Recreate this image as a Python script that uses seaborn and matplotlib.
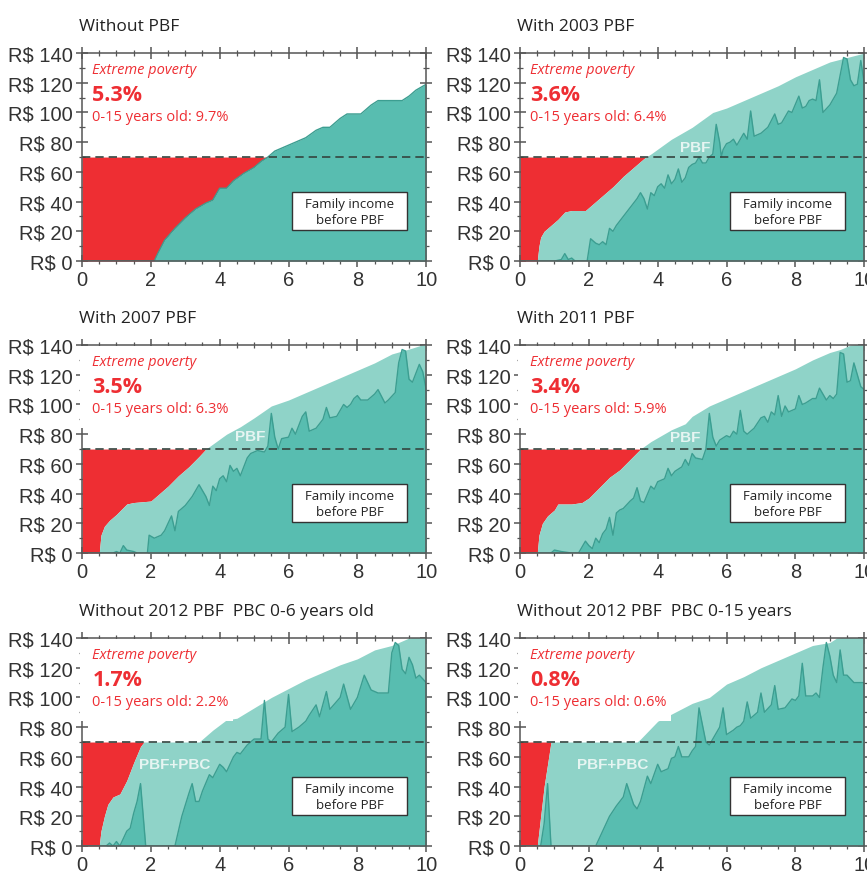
import numpy as np
import matplotlib
matplotlib.use("Agg")
import matplotlib.pyplot as plt
from matplotlib.patches import Rectangle
import seaborn as sns

# income curves (x = population share, y = R$ per month)
nopbf_x = [0, 2.1, 2.2, 2.4, 2.7, 3.0, 3.3, 3.6, 3.8, 4.0, 4.2, 4.4, 4.7, 5.0, 5.2, 5.4, 5.6, 5.8,
           6.0, 6.2, 6.5, 6.8, 7.0, 7.2, 7.5, 7.7, 8.1, 8.4, 8.6, 9.0, 9.3, 9.5, 9.7, 10]
nopbf_y = [0, 0, 5, 14, 22, 29, 35, 39, 41, 49, 49, 54, 59, 63, 67, 70, 74, 76,
           78, 80, 83, 88, 90, 90, 96, 99, 99, 105, 108, 108, 108, 111, 115, 119]

pbf03_x = [0, 0.5, 0.55, 0.6, 0.7, 0.9, 1.1, 1.3, 1.5, 1.9, 2.1, 2.4, 2.7, 3.0, 3.3, 3.6, 3.8, 4.1,
           4.4, 4.7, 5.0, 5.3, 5.6, 6.0, 6.5, 7.0, 7.5, 8.0, 8.5, 9.0, 9.5, 10]
pbf03_y = [0, 0, 10, 16, 20, 24, 28, 33, 34, 34, 38, 44, 50, 57, 63, 69, 72, 77,
           82, 86, 90, 95, 100, 103, 108, 113, 118, 124, 129, 134, 137, 140]
pre03_x = [0, 1.0, 1.2, 1.3, 1.4, 1.5, 1.6, 1.95, 2.05, 2.2, 2.3, 2.4, 2.5, 2.6, 2.7, 2.8, 3.0, 3.2,
           3.4, 3.5, 3.6, 3.7, 3.8, 3.9, 4.0, 4.1, 4.2, 4.3, 4.4, 4.5, 4.6, 4.7, 4.8, 4.9, 5.0, 5.1,
           5.2, 5.3, 5.4, 5.5, 5.6, 5.7, 5.8, 5.85, 5.9, 6.0, 6.1, 6.2, 6.3, 6.5, 6.6, 6.7, 6.8, 7.0,
           7.2, 7.4, 7.5, 7.6, 7.8, 7.9, 8.1, 8.2, 8.3, 8.4, 8.5, 8.6, 8.7, 8.8, 9.0, 9.2, 9.4, 9.5,
           9.6, 9.7, 9.8, 9.9, 10]
pre03_y = [0, 0, 1, 5, 1, 2, 0, 0, 15, 12, 11, 13, 11, 22, 20, 24, 30, 36,
           42, 46, 42, 35, 46, 44, 50, 52, 49, 58, 52, 55, 62, 53, 56, 63, 65, 66,
           70, 66, 66, 70, 72, 92, 80, 70, 75, 79, 80, 82, 78, 86, 82, 101, 84, 86,
           90, 99, 92, 93, 101, 100, 111, 103, 104, 108, 109, 108, 122, 100, 105, 113, 137, 136,
           122, 118, 119, 135, 120]

pbf07_x = [0, 0.5, 0.55, 0.65, 0.8, 1.0, 1.3, 1.5, 2.0, 2.2, 2.5, 2.8, 3.1, 3.4, 3.6, 3.9, 4.2,
           4.6, 5.0, 5.5, 6.0, 6.5, 7.0, 7.5, 8.0, 8.5, 9.0, 9.3, 9.6, 10]
pbf07_y = [0, 0, 12, 18, 22, 26, 33, 34, 35, 39, 45, 52, 58, 65, 70, 75, 80,
           85, 91, 99, 103, 108, 113, 118, 123, 128, 134, 136, 138, 141]
pre07_x = [0, 0.9, 1.0, 1.1, 1.2, 1.3, 1.5, 1.6, 1.9, 1.95, 2.1, 2.3, 2.4, 2.6, 2.7, 2.8, 3.0, 3.2,
           3.4, 3.6, 3.7, 3.8, 3.9, 4.0, 4.1, 4.2, 4.3, 4.4, 4.5, 4.6, 4.8, 4.9, 5.1, 5.3, 5.4, 5.5,
           5.6, 5.7, 5.8, 6.0, 6.1, 6.2, 6.4, 6.5, 6.6, 6.8, 7.0, 7.1, 7.2, 7.4, 7.6, 7.7, 7.8, 7.9,
           8.0, 8.1, 8.3, 8.5, 8.6, 8.8, 8.9, 9.1, 9.2, 9.3, 9.4, 9.5, 9.6, 9.8, 9.9, 10]
pre07_y = [0, 0, 1, 0, 5, 2, 1, 0, 0, 12, 10, 12, 15, 25, 15, 28, 32, 38,
           46, 38, 32, 45, 42, 50, 52, 48, 59, 55, 57, 52, 64, 67, 69, 68, 72, 94,
           78, 70, 77, 78, 84, 80, 92, 95, 82, 84, 90, 98, 91, 92, 100, 98, 100, 104,
           106, 103, 103, 107, 110, 101, 103, 108, 128, 137, 136, 117, 115, 127, 122, 110]

pbf11_x = [0, 0.5, 0.55, 0.65, 0.8, 1.0, 1.1, 1.5, 1.8, 2.0, 2.3, 2.6, 2.9, 3.2, 3.5, 3.8, 4.1,
           4.4, 4.8, 5.0, 5.5, 6.0, 6.5, 7.0, 7.5, 8.0, 8.5, 9.0, 9.3, 9.6, 10]
pbf11_y = [0, 0, 12, 20, 25, 29, 33, 33, 34, 37, 44, 51, 56, 63, 70, 75, 79,
           83, 87, 92, 99, 104, 109, 114, 119, 124, 130, 135, 137, 140, 141]
pre11_x = [0, 0.9, 1.0, 1.2, 1.5, 1.7, 1.9, 2.0, 2.1, 2.2, 2.3, 2.4, 2.5, 2.6, 2.7, 2.8, 2.9, 3.0,
           3.2, 3.3, 3.4, 3.5, 3.6, 3.8, 3.9, 4.0, 4.2, 4.3, 4.4, 4.5, 4.7, 4.8, 4.9, 5.0, 5.1, 5.3,
           5.4, 5.5, 5.6, 5.7, 5.8, 6.0, 6.1, 6.2, 6.3, 6.4, 6.5, 6.6, 6.8, 7.0, 7.1, 7.2, 7.3, 7.4,
           7.5, 7.6, 7.7, 7.8, 8.0, 8.1, 8.2, 8.3, 8.5, 8.6, 8.7, 8.9, 9.0, 9.1, 9.2, 9.3, 9.4, 9.5,
           9.6, 9.7, 9.9, 10]
pre11_y = [0, 0, 2, 1, 0, 0, 8, 5, 3, 10, 7, 13, 16, 24, 12, 27, 29, 30,
           35, 37, 44, 35, 34, 45, 43, 48, 50, 57, 52, 55, 58, 63, 59, 67, 64, 63,
           70, 94, 78, 72, 76, 79, 78, 82, 80, 96, 82, 80, 84, 91, 92, 88, 95, 93,
           106, 92, 99, 95, 97, 106, 100, 101, 104, 104, 111, 103, 106, 104, 107, 135, 134, 115,
           116, 128, 112, 110]

pbc6_x = [0, 0.5, 0.55, 0.65, 0.75, 0.9, 1.1, 1.3, 1.5, 1.7, 1.8, 3.4, 3.5, 3.8, 4.2, 4.5, 5.0,
          5.5, 6.0, 6.5, 7.0, 7.5, 8.0, 8.5, 9.0, 9.5, 10]
pbc6_y = [0, 0, 10, 20, 28, 33, 35, 44, 56, 67, 70, 70, 72, 78, 85, 86, 93,
          100, 106, 112, 117, 122, 126, 132, 135, 140, 142]
pre6_x = [0, 0.7, 0.8, 0.9, 1.0, 1.1, 1.2, 1.3, 1.4, 1.5, 1.6, 1.7, 1.85, 2.7, 2.9, 3.1, 3.2, 3.3,
          3.4, 3.5, 3.7, 3.8, 4.0, 4.1, 4.2, 4.4, 4.5, 4.6, 4.8, 5.0, 5.2, 5.3, 5.4, 5.5, 5.7, 5.9,
          6.0, 6.1, 6.3, 6.5, 6.6, 6.8, 6.9, 7.1, 7.2, 7.5, 7.6, 7.8, 8.0, 8.2, 8.4, 8.6, 8.9, 9.0,
          9.1, 9.2, 9.3, 9.4, 9.5, 9.6, 9.7, 9.8, 10]
pre6_y = [0, 0, 2, 0, 3, 0, 5, 10, 12, 22, 30, 42, 0, 0, 20, 35, 42, 30,
          30, 37, 48, 46, 55, 53, 50, 60, 63, 62, 68, 72, 72, 98, 72, 70, 76, 80,
          102, 77, 80, 84, 88, 95, 87, 104, 92, 100, 109, 92, 100, 115, 105, 103, 103, 130,
          137, 135, 119, 116, 127, 122, 113, 115, 110]

pbc15_x = [0, 0.5, 0.7, 0.9, 3.4, 3.5, 4.0, 4.5, 5.0, 5.5, 6.0, 6.5, 7.0, 7.5, 8.0, 8.5, 9.0,
           9.2, 10]
pbc15_y = [0, 0, 40, 70, 70, 72, 84, 90, 96, 100, 109, 114, 120, 125, 130, 135, 137,
           140, 142]
pre15_x = [0, 0.6, 0.7, 0.8, 0.9, 2.2, 2.4, 2.6, 2.8, 3.0, 3.1, 3.3, 3.4, 3.5, 3.7, 3.8, 4.0,
           4.1, 4.3, 4.4, 4.5, 4.6, 4.7, 4.9, 5.0, 5.1, 5.2, 5.4, 5.5, 5.8, 5.9, 6.0, 6.2, 6.3,
           6.4, 6.5, 6.6, 6.7, 6.9, 7.0, 7.1, 7.3, 7.4, 7.5, 7.7, 7.9, 8.0, 8.1, 8.2, 8.3, 8.5,
           8.6, 8.7, 8.8, 8.9, 9.0, 9.1, 9.2, 9.3, 9.4, 9.5, 9.7, 10]
pre15_y = [0, 0, 15, 42, 0, 0, 10, 20, 27, 33, 42, 28, 25, 30, 47, 42, 55,
           50, 52, 59, 60, 67, 60, 60, 64, 67, 93, 70, 68, 80, 93, 75, 78, 80,
           81, 84, 97, 86, 90, 103, 90, 95, 108, 92, 93, 99, 98, 101, 123, 101, 101,
           103, 100, 120, 137, 128, 115, 110, 132, 115, 115, 110, 110]

titles = ["Without PBF", "With 2003 PBF", "With 2007 PBF", "With 2011 PBF",
          "Without 2012 PBF  PBC 0-6 years old", "Without 2012 PBF  PBC 0-15 years"]
poverty_share = ["5.3%", "3.6%", "3.5%", "3.4%", "1.7%", "0.8%"]
child_share = ["9.7%", "6.4%", "6.3%", "5.9%", "2.2%", "0.6%"]
transfer_labels = [None, "PBF", "PBF", "PBF", "PBF+PBC", "PBF+PBC"]
line_value = 70

before = [(nopbf_x, nopbf_y), (pre03_x, pre03_y), (pre07_x, pre07_y),
          (pre11_x, pre11_y), (pre6_x, pre6_y), (pre15_x, pre15_y)]
after = [(nopbf_x, nopbf_y), (pbf03_x, pbf03_y), (pbf07_x, pbf07_y),
         (pbf11_x, pbf11_y), (pbc6_x, pbc6_y), (pbc15_x, pbc15_y)]

sns.set_style("ticks")
plt.rcParams['font.family'] = ['Liberation Sans', 'DejaVu Sans']

RED = "#ee2e33"
DARK = "#58bdb0"
LIGHT = "#8fd3c8"
EDGE = "#3c9e91"
TXT = "Open Sans"

fig = plt.figure(figsize=(8.67, 8.79), dpi=100)
lefts = [0.0946, 0.5998]
bottoms = [0.7019, 0.3697, 0.0364]
w, h = 0.397, 0.2366
label_pos = [None, (5.1, 77), (4.9, 79), (4.8, 78), (2.7, 55), (2.7, 55)]

for i in range(6):
    r, c = divmod(i, 2)
    ax = fig.add_axes([lefts[c], bottoms[r], w, h])
    bx, by = np.array(before[i][0]), np.array(before[i][1])
    axx, ayy = np.array(after[i][0]), np.array(after[i][1])

    ax.fill_between(axx, ayy, line_value, where=ayy < line_value,
                    interpolate=True, color=RED, lw=0, zorder=1)
    ax.fill_between(axx, 0, ayy, color=LIGHT, lw=0, zorder=2)
    ax.fill_between(bx, 0, by, color=DARK, lw=0, zorder=3)
    sns.lineplot(x=bx, y=by, ax=ax, color=EDGE, lw=1.0, zorder=4)
    ax.axhline(line_value, color="#34443f", lw=1.2, ls=(0, (5, 3)), zorder=5)

    ax.set_xlim(0, 10)
    ax.set_ylim(0, 140)
    ax.set_xticks(range(0, 11, 2))
    ax.set_xticks(np.arange(0, 10.01, 0.5), minor=True)
    ax.set_yticks(range(0, 141, 20))
    ax.set_yticklabels([f"R$ {v}" for v in range(0, 141, 20)])
    ax.set_yticks(range(0, 141, 10), minor=True)
    ax.tick_params(which="both", direction="inout", top=True, right=True,
                   color="#555555", labelsize=14.5, labelcolor="#333333", pad=2)
    ax.tick_params(which="major", length=9, width=1.1)
    ax.tick_params(which="minor", length=5, width=0.9)
    for s in ax.spines.values():
        s.set_color("#555555")
        s.set_linewidth(1.1)
        s.set_zorder(6)
    ax.spines["top"].set_zorder(8)

    # pasted white label area hides the upper left spine in the lower panels
    if i >= 2:
        ax.add_patch(Rectangle((-0.005, 0.6), 0.445, 0.395, transform=ax.transAxes,
                               fc="white", ec="none", zorder=6.5, clip_on=False))

    ax.text(-0.01, 1.09, titles[i], transform=ax.transAxes, fontsize=12.5,
            family=TXT, color="#222222", ha="left", va="bottom")

    ax.text(0.3, 129, "Extreme poverty", color=RED, fontsize=10.5, style="italic",
            family=TXT, va="center", zorder=7)
    ax.text(0.3, 112, poverty_share[i], color=RED, fontsize=15.5, weight="bold",
            family=TXT, va="center", zorder=7)
    ax.text(0.3, 97, f"0-15 years old: {child_share[i]}", color=RED, fontsize=10.5,
            family=TXT, va="center", zorder=7)

    ax.add_patch(Rectangle((6.1, 20.8), 3.35, 25.4, fc="white", ec="#333333",
                           lw=1, zorder=7))
    ax.text(7.78, 33.5, "Family income\nbefore PBF", fontsize=9.5, family=TXT,
            ha="center", va="center", color="#222222", linespacing=1.3, zorder=7.5)

    if transfer_labels[i]:
        lx, ly = label_pos[i]
        ax.text(lx, ly, transfer_labels[i], color="#e6f5f2", fontsize=11,
                weight="bold", family="Liberation Sans", ha="center", va="center", zorder=7)

fig.savefig("out.png", dpi=100)
